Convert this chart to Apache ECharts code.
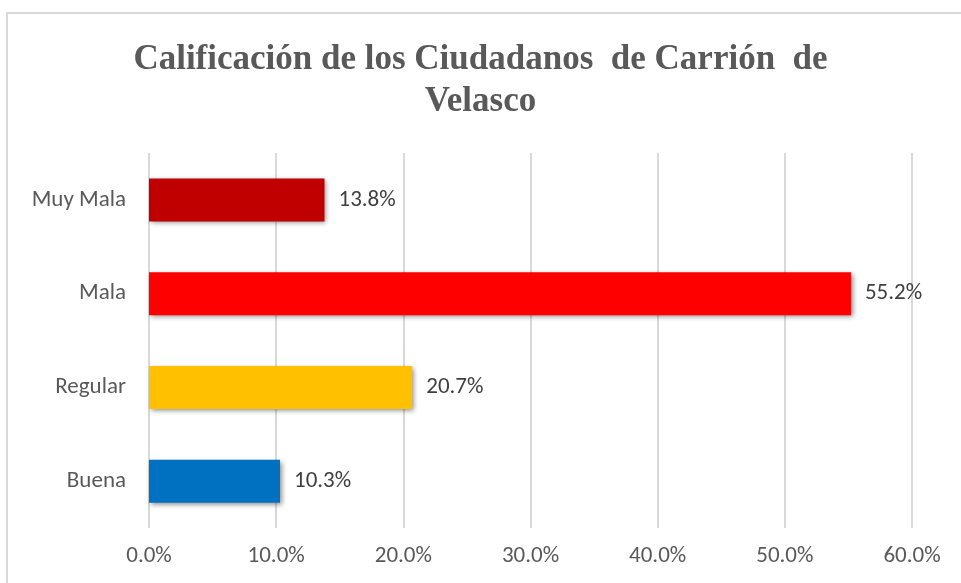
<!DOCTYPE html>
<html>
<head>
<meta charset="utf-8">
<script src="https://cdn.jsdelivr.net/npm/echarts@6/dist/echarts.min.js"></script>
<style>
  html, body { margin: 0; padding: 0; background: #fff; }
  #chart { width: 961px; height: 583px; }
</style>
</head>
<body>
<div id="chart"></div>
<script>
// categories listed bottom to top, as the category axis draws them
var categories = ['Buena', 'Regular', 'Mala', 'Muy Mala'];
var values = [10.3, 20.7, 55.2, 13.8];
var barColors = ['#0070C0', '#FFC000', '#FF0000', '#C00000'];
var xTicks = [0, 10, 20, 30, 40, 50, 60];

var labelFont = 'Carlito, Lato, "Open Sans", sans-serif';

var chart = echarts.init(document.getElementById('chart'));

var option = {
    backgroundColor: '#fff',
    title: {
        text: 'Calificación de los Ciudadanos  de Carrión  de\nVelasco',
        left: 'center',
        top: 34,
        textStyle: {
            fontFamily: '"Liberation Serif", "Times New Roman", serif',
            fontWeight: 'bold',
            fontSize: 35,
            lineHeight: 42,
            color: '#595959'
        }
    },
    graphic: [{
        type: 'rect',
        shape: { x: 7, y: 13, width: 1000, height: 620 },
        style: { fill: 'none', stroke: '#d9d9d9', lineWidth: 2 },
        silent: true
    }],
    grid: {
        left: 149,
        right: 49,
        top: 153,
        bottom: 55
    },
    xAxis: {
        type: 'value',
        min: xTicks[0],
        max: xTicks[xTicks.length - 1],
        interval: 10,
        axisLine: { show: false },
        axisTick: { show: false },
        axisLabel: {
            margin: 17,
            fontFamily: labelFont,
            fontSize: 23,
            color: '#595959',
            formatter: function (v) { return v.toFixed(1) + '%'; }
        },
        splitLine: { lineStyle: { color: '#d9d9d9', width: 2 } }
    },
    yAxis: {
        type: 'category',
        data: categories,
        axisLine: { show: false },
        axisTick: { show: false },
        axisLabel: {
            margin: 23,
            fontFamily: labelFont,
            fontSize: 23,
            color: '#595959'
        }
    },
    series: [{
        type: 'bar',
        barWidth: 43,
        data: values.map(function (v, i) {
            return { value: v, itemStyle: { color: barColors[i] } };
        }),
        itemStyle: {
            shadowColor: 'rgba(0,0,0,0.45)',
            shadowBlur: 5,
            shadowOffsetX: 2,
            shadowOffsetY: 2
        },
        label: {
            show: true,
            position: 'right',
            distance: 14,
            fontFamily: labelFont,
            fontSize: 23,
            color: '#404040',
            formatter: function (p) { return p.value.toFixed(1) + '%'; }
        }
    }]
};

chart.setOption(option);
</script>
</body>
</html>
